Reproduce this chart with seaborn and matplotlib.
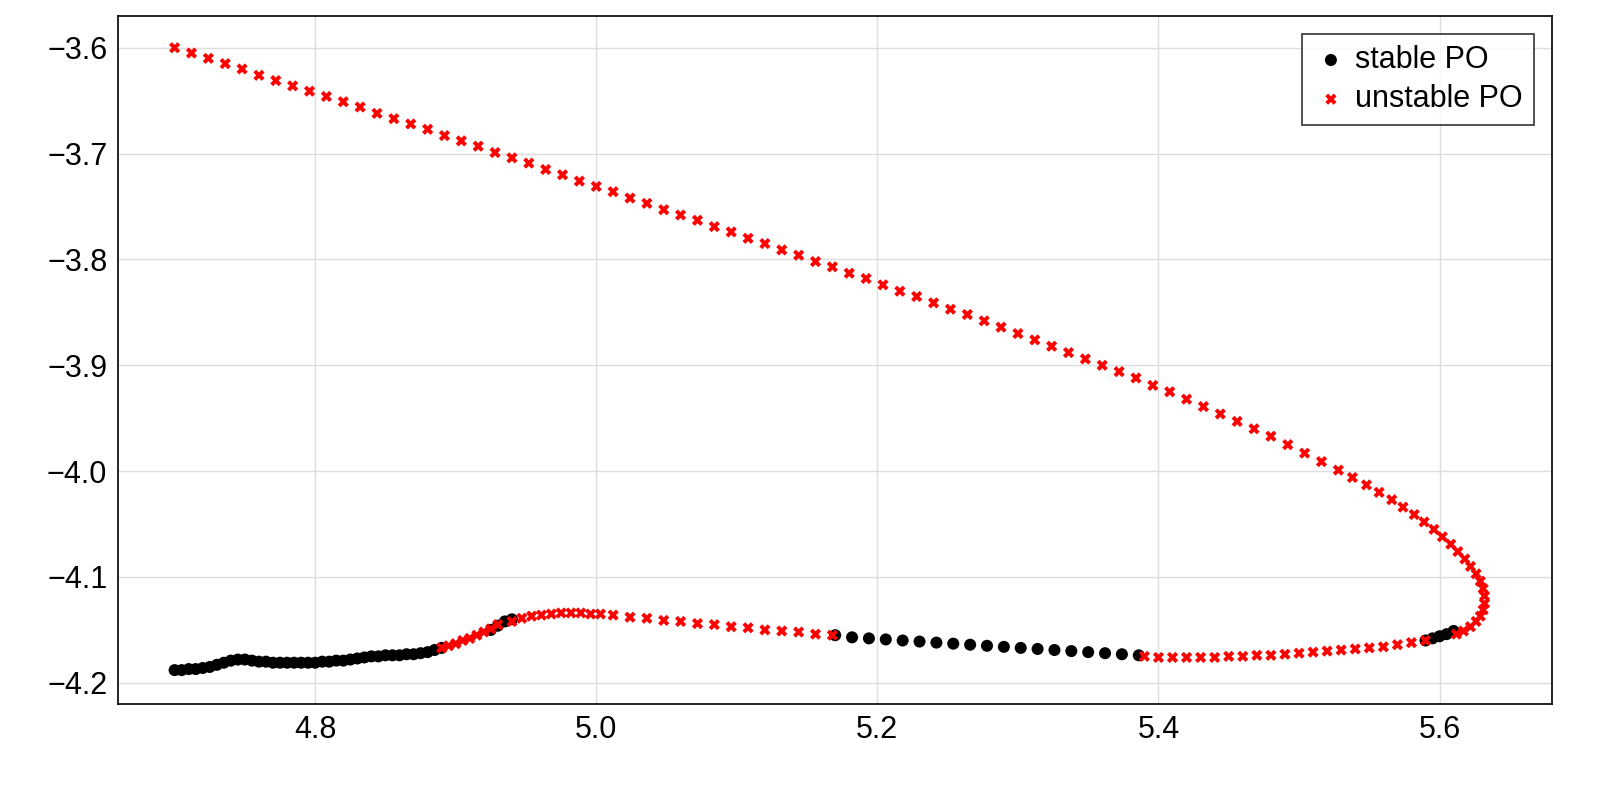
import numpy as np
import pandas as pd
import seaborn as sns
import matplotlib
matplotlib.use("Agg")
import matplotlib.pyplot as plt

# stable periodic orbits
s1_x = [4.700,4.705,4.710,4.715,4.720,4.725,4.730,4.735,4.740,4.745,4.750,4.755,4.760,4.765,4.770,4.775,4.780,4.785,4.790,4.795,
        4.800,4.805,4.810,4.815,4.820,4.825,4.830,4.835,4.840,4.845,4.850,4.855,4.860,4.865,4.870,4.875,4.880,4.885,4.890]
s1_y = [-4.188,-4.188,-4.187,-4.187,-4.186,-4.185,-4.183,-4.181,-4.179,-4.178,-4.178,-4.179,-4.180,-4.180,-4.181,-4.181,-4.181,-4.181,-4.181,-4.181,
        -4.181,-4.180,-4.180,-4.179,-4.179,-4.178,-4.177,-4.176,-4.175,-4.175,-4.174,-4.174,-4.174,-4.173,-4.173,-4.172,-4.171,-4.169,-4.167]
s2_x = [4.925,4.930,4.935,4.940]
s2_y = [-4.150,-4.146,-4.142,-4.140]
s3_x = [5.170,5.182,5.194,5.206,5.218,5.230,5.242,5.254,5.266,5.278,5.290,5.302,5.314,5.326,5.338,5.350,5.362,5.374,5.386]
s3_y = [-4.155,-4.157,-4.158,-4.159,-4.160,-4.161,-4.162,-4.163,-4.164,-4.165,-4.166,-4.167,-4.168,-4.169,-4.170,-4.171,-4.172,-4.173,-4.174]
s4_x = [5.590,5.595,5.600,5.605,5.610]
s4_y = [-4.160,-4.158,-4.156,-4.154,-4.151]

# unstable periodic orbits
u1_x = [4.890,4.895,4.900,4.905,4.910,4.915,4.920,4.925,4.930]
u1_y = [-4.167,-4.165,-4.163,-4.160,-4.158,-4.155,-4.152,-4.149,-4.145]
u2_x = [4.940,4.947,4.954,4.961,4.968,4.975,4.982,4.989,4.996,5.003,5.012,5.024,5.036,5.048,5.060,5.072,5.084,5.096,5.108,5.120,5.132,5.144,5.156,5.168]
u2_y = [-4.142,-4.139,-4.137,-4.136,-4.135,-4.134,-4.134,-4.134,-4.135,-4.135,-4.136,-4.138,-4.139,-4.141,-4.142,-4.144,-4.145,-4.147,-4.148,-4.150,-4.151,-4.152,-4.154,-4.155]
u3_x = [5.390,5.400,5.410,5.420,5.430,5.440,5.450,5.460,5.470,5.480,5.490,5.500,5.510,5.520,5.530,5.540,5.550,5.560,5.570,5.580,5.590]
u3_y = [-4.175,-4.176,-4.176,-4.176,-4.176,-4.176,-4.175,-4.175,-4.174,-4.174,-4.173,-4.172,-4.171,-4.170,-4.169,-4.168,-4.167,-4.166,-4.164,-4.162,-4.160]
u4_x = [4.700,4.712,4.724,4.736,4.748,4.760,4.772,4.784,4.796,4.808,4.820,4.832,4.844,4.856,4.868,4.880,4.892,4.904,4.916,4.928,
        4.940,4.952,4.964,4.976,4.988,5.000,5.012,5.024,5.036,5.048,5.060,5.072,5.084,5.096,5.108,5.120,5.132,5.144,5.156,5.168,
        5.180,5.192,5.204,5.216,5.228,5.240,5.252,5.264,5.276,5.288,5.300,5.312,5.324,5.336,5.348,5.360,5.372,5.384,5.396,5.408,
        5.420,5.432,5.444,5.456,5.468,5.480,5.492,5.504,5.516,5.528,5.538,5.548,5.557,5.566,5.574,5.582,5.589,5.596,5.602,5.608,
        5.613,5.618,5.622,5.626,5.629,5.631,5.632,5.632,5.631,5.629,5.626,5.622,5.617,5.612]
u4_y = [-3.600,-3.605,-3.610,-3.615,-3.620,-3.626,-3.631,-3.636,-3.641,-3.646,-3.651,-3.656,-3.662,-3.667,-3.672,-3.677,-3.683,-3.688,-3.693,-3.699,
        -3.704,-3.709,-3.715,-3.720,-3.726,-3.731,-3.736,-3.742,-3.747,-3.753,-3.758,-3.763,-3.769,-3.774,-3.780,-3.785,-3.791,-3.796,-3.802,-3.807,
        -3.813,-3.818,-3.824,-3.830,-3.835,-3.841,-3.847,-3.852,-3.858,-3.864,-3.870,-3.876,-3.882,-3.888,-3.894,-3.900,-3.906,-3.912,-3.919,-3.925,
        -3.932,-3.939,-3.946,-3.953,-3.960,-3.967,-3.975,-3.983,-3.991,-3.999,-4.006,-4.013,-4.020,-4.027,-4.034,-4.041,-4.048,-4.055,-4.062,-4.069,
        -4.076,-4.083,-4.090,-4.097,-4.104,-4.111,-4.118,-4.125,-4.131,-4.137,-4.142,-4.147,-4.151,-4.154]

stable = pd.DataFrame({"x": s1_x + s2_x + s3_x + s4_x, "y": s1_y + s2_y + s3_y + s4_y})
unstable = pd.DataFrame({"x": u1_x + u2_x + u3_x + u4_x, "y": u1_y + u2_y + u3_y + u4_y})

sns.set_theme(style="white")
plt.rcParams['font.family'] = ['Liberation Sans', 'DejaVu Sans']
plt.rcParams['text.color'] = 'black'
plt.rcParams['xtick.color'] = 'black'
plt.rcParams['ytick.color'] = 'black'

fig, ax = plt.subplots(figsize=(16, 8), dpi=100)
fig.subplots_adjust(left=0.074, right=0.97, top=0.98, bottom=0.12)

sns.scatterplot(data=stable, x="x", y="y", ax=ax, color="black", marker="o", s=75,
                edgecolor="none", label="stable PO", zorder=3)
sns.scatterplot(data=unstable, x="x", y="y", ax=ax, color="red", marker="X", s=65,
                edgecolor="none", label="unstable PO", zorder=4)

ax.set_xlim(4.66, 5.68)
ax.set_ylim(-4.22, -3.57)
ax.set_xticks([4.8, 5.0, 5.2, 5.4, 5.6])
ax.set_yticks([-4.2, -4.1, -4.0, -3.9, -3.8, -3.7, -3.6])
ax.set_xticklabels(["4.8", "5.0", "5.2", "5.4", "5.6"])
ax.set_yticklabels(["\u22124.2", "\u22124.1", "\u22124.0", "\u22123.9", "\u22123.8", "\u22123.7", "\u22123.6"])
ax.tick_params(labelsize=22, length=0, pad=8, labelcolor="black")
ax.set_xlabel("")
ax.set_ylabel("")
ax.grid(True, color="#dddddd", linewidth=1)
for sp in ax.spines.values():
    sp.set_color("black")
    sp.set_linewidth(1.2)

leg = ax.legend(loc="upper right", fontsize=22, frameon=True, fancybox=False,
                edgecolor="black", handletextpad=0.2, handlelength=1.2,
                borderpad=0.35, labelspacing=0.3, borderaxespad=0.6)
leg.get_frame().set_linewidth(1.2)
for t in leg.get_texts():
    t.set_color("black")

fig.savefig("out.png", dpi=100)
